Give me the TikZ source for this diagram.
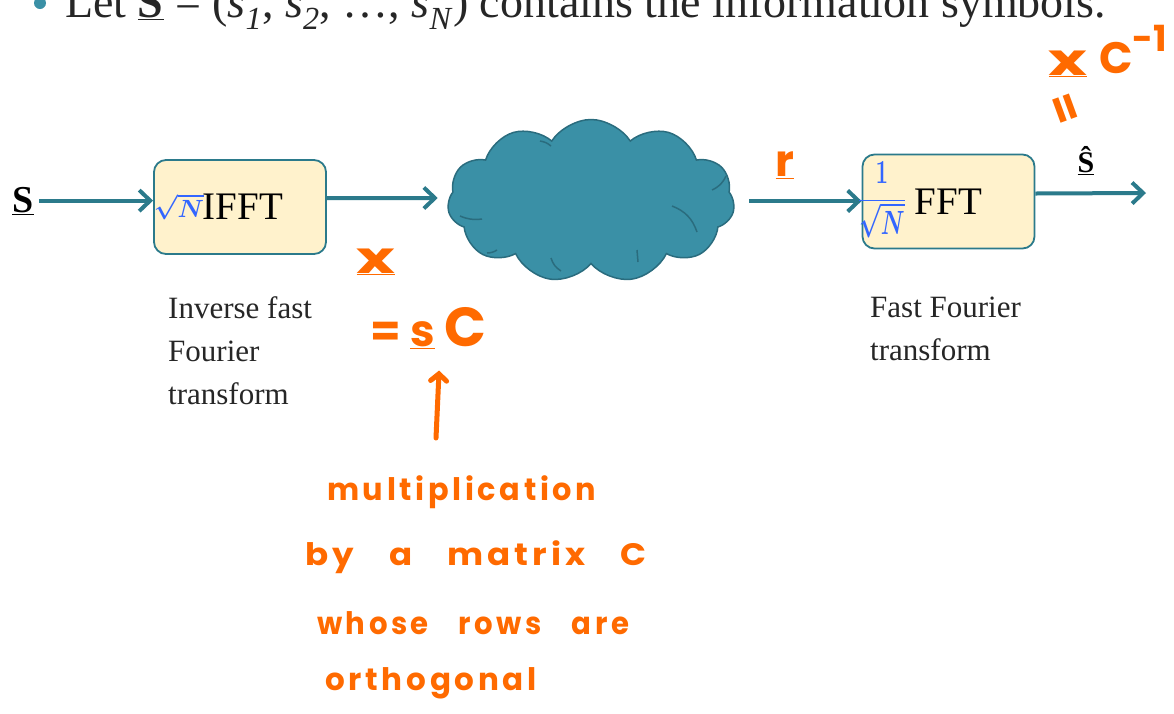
\documentclass[tikz,border=0pt]{standalone}
\usepackage{fontspec}
\setmainfont{Liberation Serif}
\newfontfamily\handfont[LetterSpace=12,WordSpace=3.1]{Poppins}
\newfontfamily\handtight{Poppins}
\usetikzlibrary{positioning}
\usetikzlibrary{shapes.symbols}
\usetikzlibrary{arrows.meta}

\definecolor{flowteal}{HTML}{2B7A8B}
\definecolor{cloudfill}{HTML}{3A90A6}
\definecolor{cloudline}{HTML}{2A6C7E}
\definecolor{boxfill}{HTML}{FFF2CC}
\definecolor{penorange}{HTML}{FF6A00}
\definecolor{penblue}{HTML}{3366FF}

\tikzset{
  flow/.style={draw=flowteal, line width=4pt, -{Straight Barb[length=11pt,width=21pt]}},
  fbox/.style={draw=flowteal, line width=1.8pt, fill=boxfill, rounded corners=12pt,
    minimum width=172pt, minimum height=94pt, font=\fontsize{39}{42}\selectfont},
  caption/.style={align=left, anchor=north west, inner sep=0pt, text=black!85,
    font=\fontsize{31}{43}\selectfont},
  pen/.style={text=penorange, inner sep=0pt, font=\handfont\bfseries\fontsize{31}{40}\selectfont},
  bigpen/.style={pen, font=\handtight\bfseries\fontsize{44}{46}\selectfont},
  penarrow/.style={draw=penorange, line width=5pt, line cap=round,
    -{Straight Barb[length=7pt,width=16pt,line cap=round]}},
  bluepen/.style={text=penblue, inner sep=0pt},
  puff/.style={draw=cloudline, line width=1.5pt},
}

\begin{document}
\begin{tikzpicture}[x=1pt,y=-1pt]
  \useasboundingbox (0,0) rectangle (1174,713);

  % bullet line, cut by the top edge
  \fill[cloudfill] (40,3) circle (6);
  \node[anchor=base west, inner sep=0pt, text=black!85, font=\fontsize{46}{50}\selectfont] (lead) at (65,17)
    {Let \underline{\textbf{S}} = (\textit{s}\textsubscript{\textit{1}}, \textit{s}\textsubscript{\textit{2}}, \dots, \textit{s}\textsubscript{\textit{N}}) contains the information symbols.};

  % blocks
  \node[fbox] (ifft) at (240,207) {\hspace*{6pt}IFFT};
  \node[fbox] (fft) at (948.5,201.5) {FFT};
  \node[shape=cloud, cloud puffs=11, cloud puff arc=115, cloud ignores aspect,
    minimum width=287pt, minimum height=163pt, inner sep=0pt,
    fill=cloudfill, draw=cloudline, line width=1.5pt] (chan) at (591,201) {};
  % folds inside the cloud
  \draw[puff] (672,206) to[bend left=25] (697,232);
  \draw[puff] (712,190) to[bend right=20] (726,176);
  \draw[puff] (460,216) to[bend right=15] (482,219);
  \draw[puff] (487,253) to[bend right=15] (497,250);
  \draw[puff] (551,258) to[bend right=20] (561,271);
  \draw[puff] (637,250) -- (638,262);
  \draw[puff] (540,141) to[bend left=15] (551,146);

  \node[anchor=base, inner sep=5pt, font=\fontsize{38}{40}\selectfont] (sin) at (23,212) {\underline{\textbf{S}}};
  \node[anchor=base, inner sep=0pt, font=\fontsize{30}{32}\selectfont] (sout) at (1086,172) {\underline{\textbf{\^{S}}}};
  \coordinate (out) at (1146,193);

  \draw[flow] (sin.east) -- (sin.east -| ifft.west);
  \draw[flow] ([yshift=9pt]ifft.east) -- ([xshift=-10pt,yshift=3pt]chan.west);
  \draw[flow] ([xshift=15pt]chan.east) -- (chan.east -| fft.west);
  \draw[flow] ([yshift=8pt]fft.east) -- (out);

  \node[caption] (ifftcap) at (168,296) {Inverse fast\\Fourier\\transform};
  \node[caption] (fftcap) at (870,297) {Fast Fourier\\transform};

  % ink notes
  \node[bluepen, font=\boldmath\fontsize{31}{33}\selectfont] (rootn) at (179,207) {$\sqrt{N}$};
  \node[bluepen, font=\boldmath\fontsize{30}{32}\selectfont] (invroot) at (882,200)
    {\scalebox{0.9}[1.35]{$\displaystyle\frac{\mathbf{1}}{\sqrt{N}}$}};

  \node[bigpen] (xvec) at (376,262) {\underline{\scalebox{1.5}[1]{x}}};
  \node[bigpen, anchor=base west] (eqsc) at (370,346) {= \underline{s} \scalebox{1.25}{C}};
  \node[bigpen] (rvec) at (785,165) {\underline{r}};
  \node[bigpen] (xtop) at (1068,64) {\underline{\scalebox{1.5}[1]{x}}};
  \node[bigpen, anchor=base west] (cinv) at (1099,73) {C\raisebox{.5em}{\fontsize{36}{38}\selectfont-1}};
  \node[bigpen, rotate=-70] (eqtop) at (1062,110) {=};

  \coordinate (pentail) at (436,438);
  \draw[penarrow, shorten >=22pt] (pentail) -- ([xshift=12pt]eqsc.south);

  \foreach \i/\x/\y/\sx/\t in {1/327/492/0.98/multiplication, 2/305/557/1.1/by a matrix C,
      3/317/623/0.94/whose rows are, 4/325/683/1/orthogonal}
    \node[pen, anchor=west] (note\i) at (\x,\y) {\scalebox{\sx}[1]{\t}};
\end{tikzpicture}
\end{document}
